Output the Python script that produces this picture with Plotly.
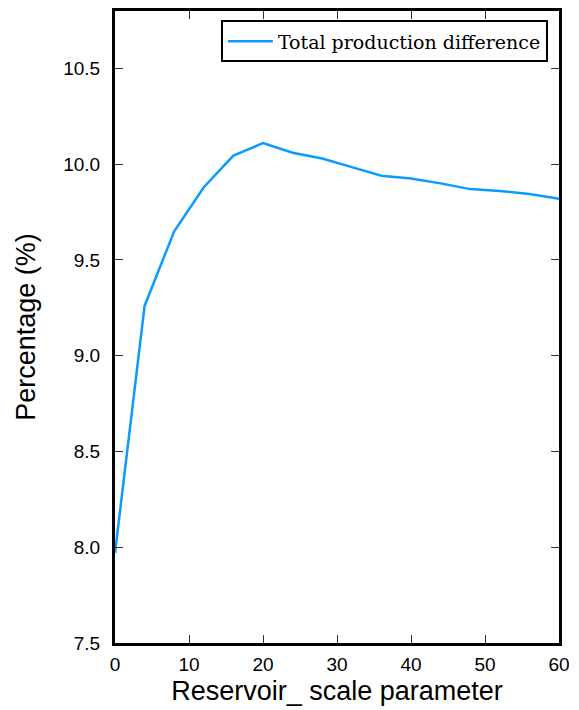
import plotly.graph_objects as go

# Reservoir scale parameter vs. total production difference (%)
scale_param = [0, 4, 8, 12, 16, 20, 24, 28, 32, 36, 40, 44, 48, 52, 56, 60]
prod_diff = [7.97, 9.26, 9.65, 9.88, 10.045, 10.11, 10.06, 10.03, 9.985, 9.94,
             9.925, 9.90, 9.87, 9.86, 9.845, 9.82]

x_ticks = [0, 10, 20, 30, 40, 50, 60]
y_ticks = [7.5, 8.0, 8.5, 9.0, 9.5, 10.0, 10.5]
y_tick_text = ["7.5", "8.0", "8.5", "9.0", "9.5", "10.0", "10.5"]

sans = "Liberation Sans, Arial, sans-serif"

fig = go.Figure()
fig.add_trace(go.Scatter(
    x=scale_param, y=prod_diff, mode="lines",
    name="Total production difference",
    line=dict(color="#0a9bff", width=2.5),
))

axis_common = dict(
    showline=True, linecolor="black", linewidth=3, mirror="ticks",
    ticks="inside", ticklen=8, tickwidth=1, tickcolor="#333",
    showgrid=False, zeroline=False,
    tickfont=dict(family=sans, size=19, color="black"),
)

fig.update_xaxes(
    range=[0, 60], tickvals=x_ticks, ticklabelstandoff=2,
    title=dict(text="Reservoir_ scale parameter",
               font=dict(family=sans, size=27, color="black"),
               standoff=8),
    **axis_common,
)
fig.update_yaxes(
    range=[7.5, 10.8], tickvals=y_ticks, ticktext=y_tick_text,
    ticklabelstandoff=8,
    title=dict(text="Percentage (%)",
               font=dict(family=sans, size=27, color="black"),
               standoff=20),
    **axis_common,
)

fig.update_layout(
    width=579, height=710,
    margin=dict(l=115, r=20, t=8, b=67),
    plot_bgcolor="white", paper_bgcolor="white",
    showlegend=True,
    legend=dict(
        x=0.975, y=0.985, xanchor="right", yanchor="top",
        bordercolor="black", borderwidth=2, bgcolor="white",
        itemwidth=45,
        font=dict(family="DejaVu Serif, Liberation Serif, serif", size=19, color="black"),
    ),
)

fig.write_html("out.html")
